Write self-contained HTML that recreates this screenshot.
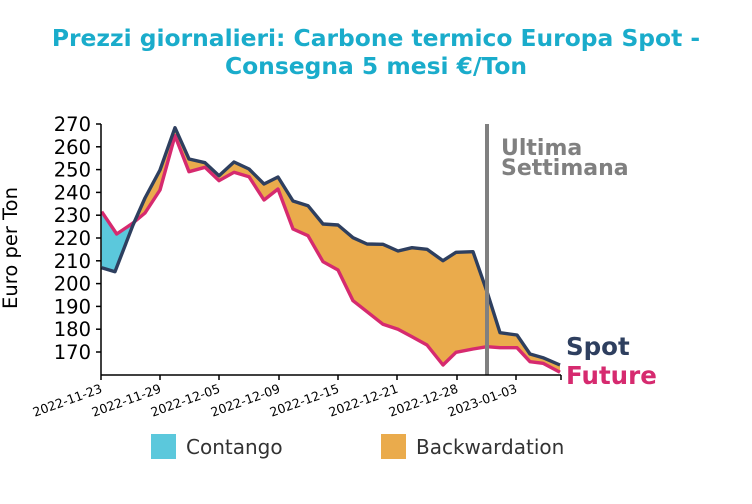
<!DOCTYPE html>
<html><head><meta charset="utf-8"><style>body{margin:0;background:#fff}svg{display:block}</style></head>
<body>
<svg width="752" height="504" xmlns="http://www.w3.org/2000/svg" font-family="'DejaVu Sans','Liberation Sans',sans-serif">
<text x="376" y="46" text-anchor="middle" font-size="23.4" font-weight="bold" fill="#1aaccb">Prezzi giornalieri: Carbone termico Europa Spot -</text>
<text x="376" y="74" text-anchor="middle" font-size="23.4" font-weight="bold" fill="#1aaccb">Consegna 5 mesi €/Ton</text>
<defs>
<clipPath id="cb"><rect x="90" y="100" width="43" height="300"/></clipPath>
<clipPath id="co"><rect x="133" y="100" width="440" height="300"/></clipPath>
</defs>
<g id="area">
<polygon id="poly" fill="#eaab4c" clip-path="url(#co)" points="101.7,267.7 115,271.7 133,225 145,198 160,170 175,127.7 189,159 205,162.7 219,175.7 234,162 249,169 264,184 278,177 293,201 308,205.7 323,224 338,225 353,237.7 367,244 383,244.3 398,251 412,247.7 427,249.3 443,260.7 456,252.3 473,251.7 487,291.7 500,332.7 517,335 530,354 543,357.7 560,365 560,372.3 543,363.3 530,361.7 517,347.7 500,347.7 487,346.7 473,349 456,352.3 443,365 427,345 412,336.7 398,329.3 383,324.3 367,311.7 353,300.7 338,270 323,261.7 308,235.7 293,229 278,189 264,200 249,176.7 234,172.3 219,180.7 205,167.3 189,171.7 175,135.7 160,190 145,213 133,223 116.7,234 101.7,211.7"/>
<polygon fill="#5bc8dc" clip-path="url(#cb)" points="101.7,267.7 115,271.7 133,225 133,223 116.7,234 101.7,211.7"/>
</g>
<polyline fill="none" stroke="#d62a6f" stroke-width="3.4" stroke-linejoin="round" points="101.7,211.7 116.7,234 133,223 145,213 160,190 175,135.7 189,171.7 205,167.3 219,180.7 234,172.3 249,176.7 264,200 278,189 293,229 308,235.7 323,261.7 338,270 353,300.7 367,311.7 383,324.3 398,329.3 412,336.7 427,345 443,365 456,352.3 473,349 487,346.7 500,347.7 517,347.7 530,361.7 543,363.3 560,372.3"/>
<polyline fill="none" stroke="#2e3f5f" stroke-width="3.4" stroke-linejoin="round" points="101.7,267.7 115,271.7 133,225 145,198 160,170 175,127.7 189,159 205,162.7 219,175.7 234,162 249,169 264,184 278,177 293,201 308,205.7 323,224 338,225 353,237.7 367,244 383,244.3 398,251 412,247.7 427,249.3 443,260.7 456,252.3 473,251.7 487,291.7 500,332.7 517,335 530,354 543,357.7 560,365"/>
<line x1="487" y1="124" x2="487" y2="375" stroke="#808080" stroke-width="4"/>
<text x="501" y="155" font-size="22" font-weight="bold" fill="#808080">Ultima</text>
<text x="501" y="175" font-size="22" font-weight="bold" fill="#808080">Settimana</text>
<g stroke="#000" stroke-width="1.5">
<line x1="101" y1="124" x2="101" y2="375"/><line x1="101" y1="375" x2="561" y2="375"/>
<line x1="96" y1="124" x2="101" y2="124"/><line x1="96" y1="146.8" x2="101" y2="146.8"/><line x1="96" y1="169.6" x2="101" y2="169.6"/><line x1="96" y1="192.4" x2="101" y2="192.4"/><line x1="96" y1="215.2" x2="101" y2="215.2"/><line x1="96" y1="238" x2="101" y2="238"/><line x1="96" y1="260.8" x2="101" y2="260.8"/><line x1="96" y1="283.6" x2="101" y2="283.6"/><line x1="96" y1="306.4" x2="101" y2="306.4"/><line x1="96" y1="329.2" x2="101" y2="329.2"/><line x1="96" y1="352" x2="101" y2="352"/>
<line x1="101" y1="375" x2="101" y2="380"/><line x1="160" y1="375" x2="160" y2="380"/><line x1="219" y1="375" x2="219" y2="380"/><line x1="279" y1="375" x2="279" y2="380"/><line x1="338" y1="375" x2="338" y2="380"/><line x1="397" y1="375" x2="397" y2="380"/><line x1="457" y1="375" x2="457" y2="380"/><line x1="516" y1="375" x2="516" y2="380"/><line x1="561" y1="375" x2="561" y2="380"/>
</g>
<g font-size="19.5" text-anchor="end" fill="#000">
<text x="91" y="131">270</text><text x="91" y="153.8">260</text><text x="91" y="176.6">250</text><text x="91" y="199.4">240</text><text x="91" y="222.2">230</text><text x="91" y="245">220</text><text x="91" y="267.8">210</text><text x="91" y="290.6">200</text><text x="91" y="313.4">190</text><text x="91" y="336.2">180</text><text x="91" y="359">170</text>
</g>
<g font-size="12.5" text-anchor="end" fill="#000">
<text transform="translate(103,392) rotate(-20)">2022-11-23</text>
<text transform="translate(162,392) rotate(-20)">2022-11-29</text>
<text transform="translate(221,392) rotate(-20)">2022-12-05</text>
<text transform="translate(281,392) rotate(-20)">2022-12-09</text>
<text transform="translate(340,392) rotate(-20)">2022-12-15</text>
<text transform="translate(399,392) rotate(-20)">2022-12-21</text>
<text transform="translate(459,392) rotate(-20)">2022-12-28</text>
<text transform="translate(518,392) rotate(-20)">2023-01-03</text>
</g>
<text transform="translate(17,248) rotate(-90)" font-size="19.5" text-anchor="middle">Euro per Ton</text>
<text x="566" y="355" font-size="24.5" font-weight="bold" fill="#2e3f5f">Spot</text>
<text x="566" y="384" font-size="24.5" font-weight="bold" fill="#d62a6f">Future</text>
<rect x="151" y="434" width="25" height="25" fill="#5bc8dc"/>
<text x="186" y="454" font-size="20" fill="#333">Contango</text>
<rect x="381" y="434" width="25" height="25" fill="#eaab4c"/>
<text x="416" y="454" font-size="20" fill="#333">Backwardation</text>
</svg>
</body></html>
